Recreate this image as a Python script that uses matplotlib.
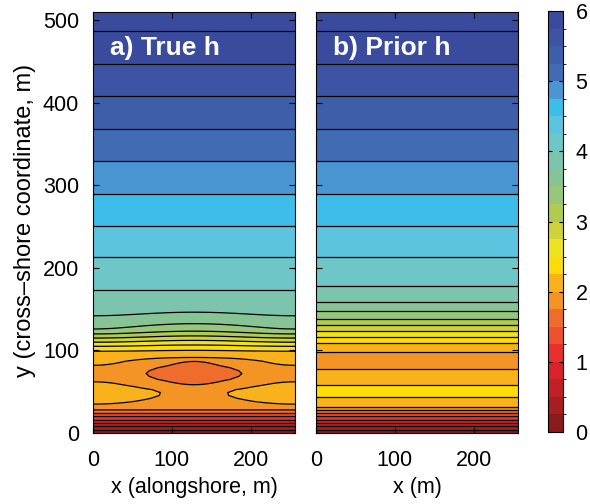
import numpy as np
import matplotlib
matplotlib.use('Agg')
import matplotlib.pyplot as plt
from matplotlib.colors import ListedColormap, BoundaryNorm
from matplotlib.cm import ScalarMappable

plt.rcParams['font.family'] = ['Liberation Sans', 'DejaVu Sans']

# ---- data ----
levels = np.arange(0, 6.01, 0.25)
band_colors = ['#8b1a1c', '#a71e22', '#c02126', '#d8232a', '#e8312e', '#ec5230',
               '#ef6c2c', '#f49424', '#f9b21c', '#fddc08', '#efe21e', '#cfd23a',
               '#b0ca52', '#98c67a', '#86c496', '#7cc4ae', '#6ec6c6', '#5cc4de',
               '#3cbdea', '#4a96d2', '#416cb4', '#3e5eaa', '#3c54a3', '#3a4b9d']

# prior depth profile (x independent)
y_prior = [0, 32, 44, 51, 58, 77, 88, 98, 108.8, 115.8, 123, 130.3, 138, 147.3,
           158.5, 178, 212.7, 251.2, 290, 329.1, 368.5, 407.9, 447.3, 486.7, 510]
h_prior = [0.0, 2.0, 2.25, 2.4, 2.25, 2.0, 1.9, 2.0, 2.25, 2.5, 2.75, 3.0, 3.25, 3.5,
           3.75, 4.0, 4.25, 4.5, 4.75, 5.0, 5.25, 5.5, 5.75, 6.0, 6.15]

# true depth: profile at the alongshore edges and at the alongshore centre
y_true = [0, 28, 32, 35, 38, 42, 45.5, 49, 52.5, 56, 58.5, 62, 65, 68.5, 72, 75.5,
          79, 82, 86.7, 91.5, 99, 105, 110, 115, 120, 126, 142, 173.5, 212.7,
          251.2, 290, 329.1, 368.5, 407.9, 447.3, 486.7, 510]
h_true_edge = [0.0, 1.75, 1.90, 2.0, 2.05, 2.11, 2.14, 2.15, 2.14, 2.10, 2.06, 2.0,
               1.91, 1.865, 1.85, 1.865, 1.91, 2.0, 2.07, 2.14, 2.25, 2.5, 2.75,
               3.0, 3.25, 3.5, 3.75, 4.0, 4.25, 4.5, 4.75, 5.0, 5.25, 5.5, 5.75,
               6.0, 6.15]
h_true_center = [0.0, 1.75, 1.82, 1.87, 1.90, 1.93, 1.95, 1.95, 1.92, 1.83, 1.75,
                 1.71, 1.685, 1.67, 1.665, 1.67, 1.685, 1.71, 1.75, 2.0, 2.21, 2.43,
                 2.65, 2.88, 3.11, 3.36, 3.71, 4.0, 4.25, 4.5, 4.75, 5.0, 5.25, 5.5,
                 5.75, 6.0, 6.15]

x_max = 256
x_ticks = [0, 100, 200]
y_ticks = [0, 100, 200, 300, 400, 500]
cbar_ticks = [0, 1, 2, 3, 4, 5, 6]

# ---- grids ----
xg = np.linspace(0, x_max, 257)
w = 0.5 * (1 + np.cos(2 * np.pi * (xg - x_max / 2) / x_max))
Yt = np.array(y_true)
he = np.array(h_true_edge)
hc = np.array(h_true_center)
H_true = he[:, None] + (hc - he)[:, None] * w[None, :]
Yp = np.array(y_prior)
H_prior = np.repeat(np.array(h_prior)[:, None], xg.size, axis=1)

cmap = ListedColormap(band_colors)
cmap.set_over(band_colors[-1])
cmap.set_under(band_colors[0])

fig = plt.figure(figsize=(5.9, 5.04), dpi=100)
W, Hh = 590.0, 504.0
def box(l, t, r, b):
    return [l / W, 1 - b / Hh, (r - l) / W, (b - t) / Hh]

ax1 = fig.add_axes(box(93, 12, 295, 433))
ax2 = fig.add_axes(box(316, 12, 518, 433))
cax = fig.add_axes(box(548, 11, 563, 432))

fs = 15.5
for ax, (Y, H), title in [(ax1, (Yt, H_true), 'a) True h'), (ax2, (Yp, H_prior), 'b) Prior h')]:
    ax.contourf(xg, Y, H, levels=levels, cmap=cmap, vmin=0, vmax=6, extend='both')
    ax.contour(xg, Y, H, levels=levels[1:], colors='k', linewidths=0.9)
    ax.set_xlim(0, x_max)
    ax.set_ylim(0, 510)
    ax.set_xticks(x_ticks)
    ax.set_yticks(y_ticks)
    ax.tick_params(direction='in', top=True, right=True, length=4, width=0.8,
                   labelsize=fs)
    ax.tick_params(axis='x', pad=12)
    ax.tick_params(axis='y', pad=10)
    for s in ax.spines.values():
        s.set_linewidth(0.8)
    ax.text(0.085, 0.915, title, transform=ax.transAxes, color='white',
            fontsize=19, fontweight='bold', va='center', ha='left')

ax2.set_yticklabels([])
ax1.set_xlabel('x (alongshore, m)', fontsize=fs)
ax2.set_xlabel('x (m)', fontsize=fs)
for ax in (ax1, ax2):
    ax.xaxis.label.set_va('center')
    ax.xaxis.set_label_coords(0.5, -0.13)
ax1.set_ylabel('y (cross\u2013shore coordinate, m)', fontsize=17)
ax1.yaxis.label.set_va('center')
ax1.yaxis.set_label_coords(-0.335, 0.505)

sm = ScalarMappable(norm=BoundaryNorm(levels, cmap.N), cmap=cmap)
cb = fig.colorbar(sm, cax=cax, ticks=cbar_ticks)
cb.ax.tick_params(direction='in', length=3, width=0.8, labelsize=fs, pad=9,
                  left=True, right=True)
cb.outline.set_linewidth(0.8)
cb.ax.set_yticklabels([str(t) for t in cbar_ticks])

fig.savefig('out.png', dpi=100)
